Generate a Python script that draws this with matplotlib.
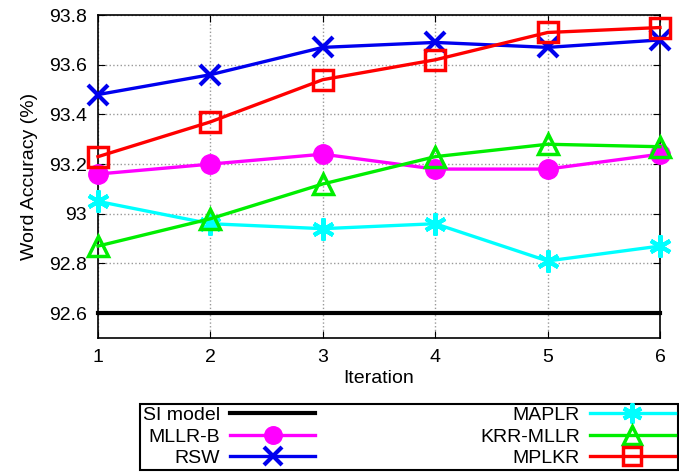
import matplotlib
matplotlib.use('Agg')
import matplotlib.pyplot as plt

plt.rcParams['font.family'] = ['Liberation Sans', 'DejaVu Sans']

# data
iterations = [1, 2, 3, 4, 5, 6]
si_model = [92.6, 92.6, 92.6, 92.6, 92.6, 92.6]
mllr_b = [93.16, 93.20, 93.24, 93.18, 93.18, 93.24]
rsw = [93.48, 93.56, 93.67, 93.69, 93.67, 93.70]
maplr = [93.05, 92.96, 92.94, 92.96, 92.81, 92.87]
krr_mllr = [92.87, 92.98, 93.12, 93.23, 93.28, 93.27]
mplkr = [93.23, 93.37, 93.54, 93.62, 93.73, 93.75]
yticks = [92.6, 92.8, 93, 93.2, 93.4, 93.6, 93.8]
ytick_labels = ['92.6', '92.8', '93', '93.2', '93.4', '93.6', '93.8']

fig = plt.figure(figsize=(6.79, 4.72), dpi=100)
ax = fig.add_axes([0.1443, 0.284, 0.8277, 0.684])

lw = 2.4
opts = dict(clip_on=False, zorder=3)
ax.plot(iterations, si_model, color='black', lw=3, label='SI model', **opts)
ax.plot(iterations, mllr_b, color='#ff00ff', lw=lw, marker='o', ms=14,
        label='MLLR-B', **opts)
ax.plot(iterations, rsw, color='#0000ee', lw=lw, marker='x', ms=15, mew=3,
        label='RSW', **opts)
ax.plot(iterations, maplr, color='#00ffff', lw=lw, marker=(6, 2, 0), ms=16,
        mew=3, label='MAPLR', **opts)
ax.plot(iterations, krr_mllr, color='#00ee00', lw=lw, marker='^', ms=15,
        mfc='none', mew=2.5, label='KRR-MLLR', **opts)
ax.plot(iterations, mplkr, color='#ff0000', lw=lw, marker='s', ms=15,
        mfc='none', mew=2.5, label='MPLKR', **opts)

ax.set_xlim(1, 6)
ax.set_ylim(92.5, 93.8)
ax.set_xticks(iterations)
ax.set_yticks(yticks)
ax.set_yticklabels(ytick_labels)
ax.tick_params(direction='in', length=5, labelsize=14, top=True, right=True,
               pad=8)
ax.grid(True, color='#999999', linestyle=':', linewidth=1)
for s in ax.spines.values():
    s.set_linewidth(1.2)

ax.set_xlabel('Iteration', fontsize=14, labelpad=3)
ax.set_ylabel('Word Accuracy (%)', fontsize=14, labelpad=8)

leg = fig.legend(ncol=2, markerfirst=False, mode='expand',
                 loc='lower left',
                 bbox_to_anchor=(140 / 679, 2 / 472, 538 / 679, 67 / 472),
                 fontsize=14, handlelength=4.4, handletextpad=0.5,
                 labelspacing=0.2, borderpad=0.15, fancybox=False,
                 markerscale=0.9,
                 edgecolor='black', framealpha=1, borderaxespad=0)
leg.get_frame().set_linewidth(1.5)

fig.savefig('out.png', dpi=100)
